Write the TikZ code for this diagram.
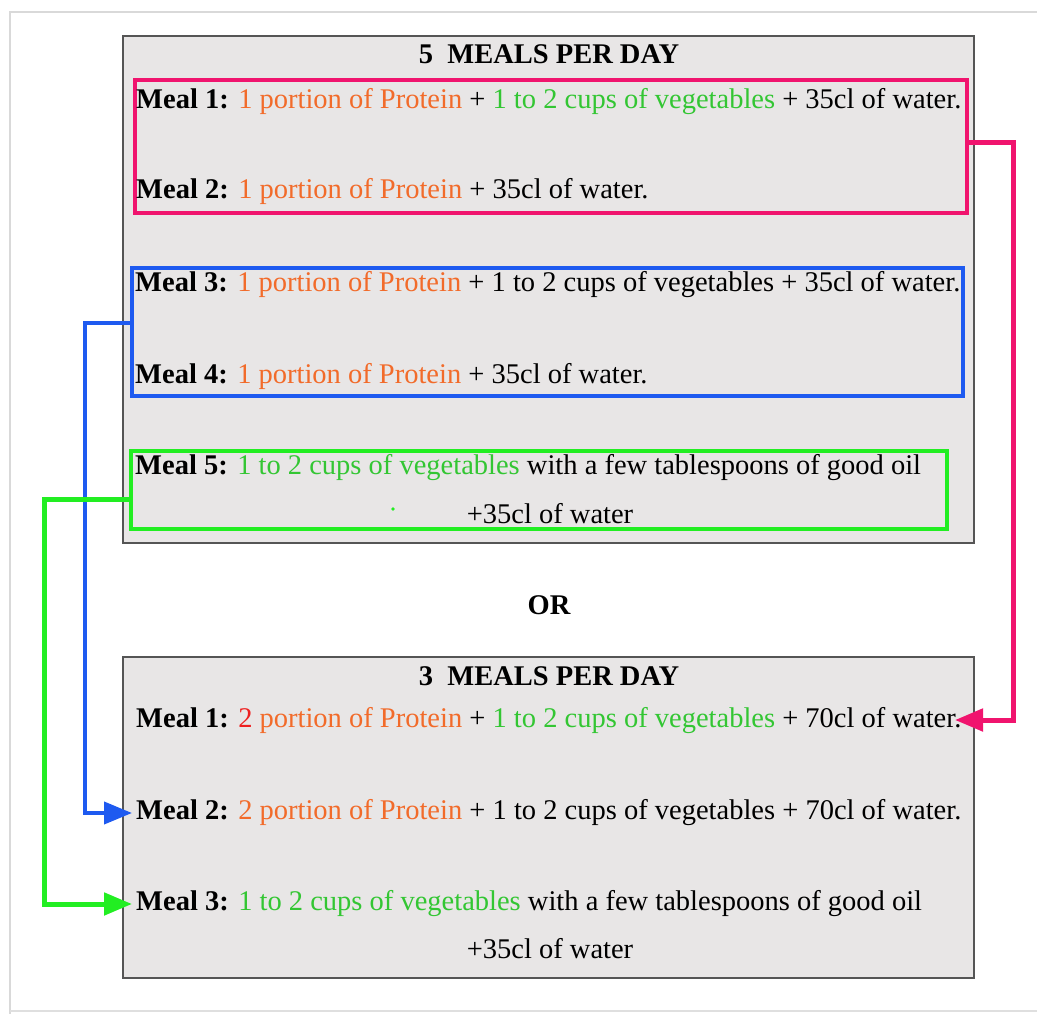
\documentclass[tikz,border=0pt]{standalone}
\usepackage{fontspec}
\setmainfont{Liberation Serif}
\usetikzlibrary{arrows.meta}
\definecolor{orng}{HTML}{F26B2A}
\definecolor{vgrn}{HTML}{33C633}
\definecolor{rd}{HTML}{EE2020}
\definecolor{pinkl}{HTML}{F0146E}
\definecolor{bluel}{HTML}{1E5AF0}
\definecolor{grnl}{HTML}{22EE22}
\definecolor{boxfill}{HTML}{E8E6E6}
\definecolor{boxline}{HTML}{555555}
\newcommand\prot[1]{\textcolor{orng}{#1}}
\newcommand\vegs[1]{\textcolor{vgrn}{#1}}
\begin{document}
\begin{tikzpicture}[x=1pt,y=-1pt,
  bigbox/.style={draw=boxline,fill=boxfill,line width=1.2pt},
  meal/.style={anchor=west,inner sep=0pt,font=\fontsize{28.5}{32}\selectfont},
  ttl/.style={inner sep=0pt,font=\fontsize{28.5}{32}\selectfont\bfseries},
  grp/.style={draw=#1,line width=4.5pt,inner sep=0pt},
  conn/.style 2 args={draw=#1,line width=#2,-{Triangle[length=28pt,width=22pt]}}
]
\useasboundingbox (0,0) rectangle (1037,1014);
\draw[gray!30,line width=2pt] (10,1014) -- (10,12) -- (1040,12);
\draw[gray!25,line width=1.5pt] (10,1011) -- (1040,1011);

% top box
\draw[bigbox] (123,36) rectangle (974,543);
\node[ttl] (t5) at (549,54) {5\ \ MEALS PER DAY};
\node[grp=pinkl,minimum width=832pt,minimum height=133pt] (pinkbox) at (551,146.5) {};
\node[grp=bluel,minimum width=831pt,minimum height=128pt] (bluebox) at (547.5,332) {};
\node[grp=grnl,minimum width=816pt,minimum height=78pt] (grnbox) at (539,490) {};

\node[meal] (a1) at (136,102) {\textbf{Meal 1:} \prot{1 portion of Protein} + \vegs{1 to 2 cups of vegetables} + 35cl of water.};
\node[meal] (a2) at (136,192) {\textbf{Meal 2:} \prot{1 portion of Protein} + 35cl of water.};
\node[meal] (a3) at (135,285) {\textbf{Meal 3:} \prot{1 portion of Protein} + 1 to 2 cups of vegetables + 35cl of water.};
\node[meal] (a4) at (135,376) {\textbf{Meal 4:} \prot{1 portion of Protein} + 35cl of water.};
\node[meal] (a5) at (135,468) {\textbf{Meal 5:} \vegs{1 to 2 cups of vegetables} with a few tablespoons of good oil};
\node[meal,anchor=center] (a5b) at (550,514) {+35cl of water};
\fill[grnl] (393,509) circle (1.8pt);

\node[ttl] (or) at (549,605) {OR};

% bottom box
\draw[bigbox] (123,657) rectangle (974,978);
\node[ttl] (t3) at (549,676) {3\ \ MEALS PER DAY};
\node[meal] (b1) at (136,721) {\textbf{Meal 1:} \textcolor{rd}{2} \prot{portion of Protein} + \vegs{1 to 2 cups of vegetables} + 70cl of water.};
\node[meal] (b2) at (136,813) {\textbf{Meal 2:} \prot{2 portion of Protein} + 1 to 2 cups of vegetables + 70cl of water.};
\node[meal] (b3) at (136,904) {\textbf{Meal 3:} \vegs{1 to 2 cups of vegetables} with a few tablespoons of good oil};
\node[meal,anchor=center] (b3b) at (550,949) {+35cl of water};

% connectors
\coordinate (pk1) at (1013,143);
\coordinate (pkt) at (955,720);
\draw[conn={pinkl}{5pt}] (pinkbox.east |- pk1) -- (pk1) -- (pk1 |- pkt) -- (pkt);
\coordinate (bl1) at (85,323);
\draw[conn={bluel}{4pt}] (bluebox.west |- bl1) -- (bl1) -- (bl1 |- b2.west) -- ([xshift=-4pt]b2.west);
\coordinate (gr1) at (44,499);
\draw[conn={grnl}{5pt}] (grnbox.west |- gr1) -- (gr1) -- (gr1 |- b3.west) -- ([xshift=-4pt]b3.west);
\end{tikzpicture}
\end{document}
